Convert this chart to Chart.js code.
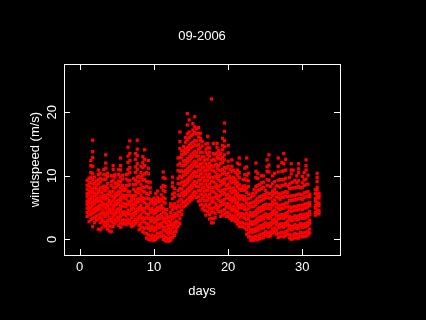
<!DOCTYPE html>
<html>
<head>
<meta charset="utf-8">
<script src="https://cdn.jsdelivr.net/npm/chart.js@4"></script>
<style>
  html, body { margin: 0; padding: 0; background: #000; }
  #wrap { width: 426px; height: 320px; }
</style>
</head>
<body>
<div id="wrap"><canvas id="windChart"></canvas></div>
<script>
// month title and axis names
const chartTitle = "09-2006";
const xTitle = "days";
const yTitle = "windspeed (m/s)";

const xTicks = [0, 10, 20, 30];
const yTicks = [0, 10, 20];

// sample times (day of month) and the readings at each sample time
const sampleDays = [
  1.0, 1.25, 1.5, 1.75, 2.0, 2.25, 2.5, 2.75, 3.0, 3.25, 3.5, 3.75,
  4.0, 4.25, 4.5, 4.75, 5.0, 5.25, 5.5, 5.75, 6.0, 6.25, 6.5, 6.75,
  7.0, 7.25, 7.5, 7.75, 8.0, 8.25, 8.5, 8.75, 9.0, 9.25, 9.5, 9.75,
  10.0, 10.25, 10.5, 10.75, 11.0, 11.25, 11.5, 11.75, 12.0, 12.25, 12.5, 12.75,
  13.0, 13.25, 13.5, 13.75, 14.0, 14.25, 14.5, 14.75, 15.0, 15.25, 15.5, 15.75,
  16.0, 16.25, 16.5, 16.75, 17.0, 17.25, 17.5, 17.75, 18.0, 18.25, 18.5, 18.75,
  19.0, 19.25, 19.5, 19.75, 20.0, 20.25, 20.5, 20.75, 21.0, 21.25, 21.5, 21.75,
  22.0, 22.25, 22.5, 22.75, 23.0, 23.25, 23.5, 23.75, 24.0, 24.25, 24.5, 24.75,
  25.0, 25.25, 25.5, 25.75, 26.0, 26.25, 26.5, 26.75, 27.0, 27.25, 27.5, 27.75,
  28.0, 28.25, 28.5, 28.75, 29.0, 29.25, 29.5, 29.75, 30.0, 30.25, 30.5, 30.75,
  31.0, 31.75, 32.0, 32.25
];

const windspeed = [
  [3.6, 4.2, 4.9, 5.5, 6.0, 6.7, 7.2, 7.9, 8.5, 9.3],
  [2.8, 3.9, 4.6, 5.1, 5.8, 6.3, 7.1, 7.6, 8.4, 8.9, 9.6],
  [3.1, 3.8, 4.3, 5.0, 5.6, 6.3, 6.8, 7.5, 8.1, 8.9, 9.8, 10.5, 11.6, 12.4],
  [2.0, 3.3, 4.1, 4.6, 5.4, 5.9, 6.6, 7.4, 7.9, 8.8, 9.4, 10.4, 11.5, 12.9, 13.8, 15.6],
  [2.6, 3.4, 4.3, 4.8, 5.6, 6.1, 6.9, 7.3, 8.2, 8.8, 9.8],
  [3.0, 3.7, 4.5, 5.0, 5.9, 6.4, 7.0, 7.8, 8.4, 9.2],
  [1.6, 3.2, 3.8, 4.7, 5.2, 6.0, 6.5, 7.3, 7.8, 8.7, 9.4, 10.2, 10.9],
  [1.5, 2.6, 3.5, 4.0, 4.9, 5.4, 6.2, 6.7, 7.5, 8.1, 9.0, 9.6, 10.4],
  [1.8, 2.8, 3.3, 4.1, 4.6, 5.4, 5.9, 6.7, 7.3, 8.2, 9.4],
  [2.3, 2.9, 3.8, 4.3, 5.1, 5.6, 6.4, 6.9, 7.8, 8.4, 9.5, 10.2, 11.0],
  [2.0, 2.7, 3.6, 4.1, 4.9, 5.4, 6.3, 6.8, 7.7, 8.3, 9.4, 10.1, 11.2, 12.0, 13.3],
  [1.6, 2.5, 3.0, 3.9, 4.4, 5.2, 5.7, 6.5, 7.1, 8.1, 8.8, 9.9, 10.4],
  [1.3, 2.1, 3.0, 3.4, 4.3, 4.8, 5.6, 6.1, 7.0, 7.5],
  [1.2, 2.0, 2.8, 3.2, 4.1, 4.6, 5.4, 5.9, 6.8, 7.4, 8.5, 9.1, 10.0],
  [2.0, 2.6, 3.5, 4.0, 4.8, 5.3, 6.2, 6.7, 7.6, 8.2, 9.3, 10.0, 11.0, 11.6],
  [2.5, 3.1, 3.9, 4.4, 5.3, 5.7, 6.6, 7.1, 8.1, 8.8, 9.8, 10.2],
  [2.8, 3.4, 4.2, 4.7, 5.5, 6.0, 6.9, 7.3, 8.3, 8.9],
  [2.2, 3.0, 3.5, 4.4, 4.8, 5.7, 6.2, 7.1, 7.6, 8.6, 9.2, 10.2, 11.0],
  [1.9, 2.6, 3.5, 3.9, 4.8, 5.3, 6.1, 6.6, 7.5, 8.1, 9.1, 9.8, 10.9, 11.6, 12.8],
  [2.4, 3.0, 3.9, 4.3, 5.2, 5.7, 6.5, 7.0, 7.9, 8.5, 9.5, 10.1],
  [2.5, 3.1, 3.9, 4.3, 5.2, 5.6, 6.5, 6.9, 7.7, 8.0],
  [2.3, 2.9, 3.7, 4.2, 5.1, 5.5, 6.4, 6.9, 7.9, 8.5, 9.5, 10.2],
  [2.6, 3.2, 4.1, 4.6, 5.5, 6.0, 6.9, 7.5, 8.5, 9.2, 10.3, 11.0, 12.1, 13.1, 14.5],
  [2.4, 3.0, 3.9, 4.5, 5.4, 5.9, 6.9, 7.5, 8.6, 9.3, 10.5, 11.3, 12.4, 13.5, 15.5],
  [2.0, 2.6, 3.4, 3.9, 4.7, 5.2, 6.0, 6.4, 6.9],
  [2.2, 2.8, 3.7, 4.1, 5.0, 5.5, 6.4, 6.9, 7.9, 8.6, 9.6],
  [2.5, 3.1, 4.0, 4.5, 5.4, 5.9, 6.9, 7.5, 8.6, 9.3, 10.5, 11.4, 12.6, 13.5],
  [2.8, 3.4, 4.3, 4.8, 5.8, 6.3, 7.3, 7.9, 9.0, 9.8, 11.0, 11.9, 13.2, 14.2, 15.6],
  [1.5, 2.2, 3.1, 3.6, 4.5, 5.0, 5.9, 6.4, 7.4, 8.0, 9.1, 9.9],
  [1.8, 2.5, 3.4, 3.9, 4.8, 5.3, 6.3, 6.9, 7.9, 8.6, 9.7, 10.5, 11.5],
  [1.2, 1.9, 2.9, 3.4, 4.4, 4.9, 5.9, 6.5, 7.5, 8.2, 9.3, 10.1, 11.3, 12.1, 13.0],
  [1.0, 1.7, 2.7, 3.3, 4.2, 4.8, 5.8, 6.4, 7.5, 8.2, 9.4, 10.3, 11.6, 12.6, 14.1],
  [0.2, 0.9, 1.9, 2.5, 3.4, 4.0, 5.0, 5.5, 6.5, 7.2, 8.3, 9.1, 10.5],
  [0.0, 0.7, 1.7, 2.3, 3.3, 3.9, 4.9, 5.4, 6.4, 7.1, 8.2, 9.0, 10.3, 11.2, 12.4],
  [-0.1, 0.5, 1.4, 1.9, 2.8, 3.3, 4.2, 4.7, 5.7, 6.3, 7.4, 8.1, 9.0],
  [0.1, 0.7, 1.6, 2.1, 3.0, 3.5, 4.4, 4.9, 5.8, 6.2],
  [-0.2, 0.4, 1.3, 1.8, 2.6, 3.1, 4.0, 4.5, 5.4, 5.9, 6.5],
  [0.0, 0.6, 1.5, 1.9, 2.8, 3.3, 4.2, 4.7, 5.6, 6.2, 7.2],
  [0.3, 0.9, 1.8, 2.3, 3.1, 3.6, 4.5, 5.0, 6.0, 6.6, 7.6],
  [0.4, 1.0, 1.9, 2.4, 3.2, 3.7, 4.6, 5.1, 5.9, 6.3],
  [0.5, 1.1, 2.0, 2.5, 3.4, 3.9, 4.8, 5.3, 6.3, 7.0, 8.2],
  [0.0, 0.6, 1.5, 2.0, 2.9, 3.4, 4.3, 4.9, 5.9, 6.6, 7.7, 8.5, 9.7, 10.6],
  [-0.2, 0.4, 1.3, 1.8, 2.7, 3.2, 4.1, 4.7, 5.7, 6.4, 7.5, 8.3, 9.6],
  [-0.3, 0.2, 1.0, 1.4, 2.2, 2.6, 3.4, 3.9, 4.7],
  [-0.3, 0.1, 0.8, 1.1, 1.8, 2.1, 2.9, 3.5],
  [-0.2, 0.3, 1.1, 1.5, 2.3, 2.7, 3.6, 4.2, 5.1, 5.6],
  [0.3, 0.9, 1.8, 2.3, 3.2, 3.7, 4.7, 5.3, 6.4, 7.1, 8.3, 8.9, 9.8],
  [0.6, 1.2, 2.1, 2.6, 3.5, 4.0, 5.0, 5.6, 6.7, 7.3, 8.0],
  [1.2, 1.7, 2.5, 2.9, 3.7, 4.1, 4.9, 5.1],
  [2.0, 2.7, 3.7, 4.3, 5.3, 5.9, 7.0, 7.7, 8.8, 9.6, 10.8, 11.7, 12.8],
  [2.5, 3.3, 4.4, 5.1, 6.2, 6.9, 8.0, 8.7, 9.9, 10.7, 12.0, 12.9, 14.3, 15.4, 16.9],
  [3.9, 4.6, 5.6, 6.2, 7.2, 7.9, 9.0, 9.7, 10.8, 11.6, 12.8, 13.4, 14.0],
  [5.1, 5.8, 6.8, 7.4, 8.4, 9.0, 10.0, 10.6, 11.6, 12.3, 13.4, 13.9, 14.6],
  [5.3, 6.0, 7.0, 7.6, 8.6, 9.2, 10.2, 10.8, 11.8, 12.4, 13.5, 14.2, 15.3, 16.0],
  [5.6, 6.3, 7.3, 7.9, 8.9, 9.5, 10.5, 11.1, 12.1, 12.7, 13.8, 14.5, 15.7, 16.6, 18.0, 19.8],
  [5.9, 6.6, 7.6, 8.2, 9.2, 9.8, 10.8, 11.4, 12.4, 13.0, 14.1, 14.8, 16.0, 16.9, 18.8],
  [6.2, 6.9, 7.9, 8.5, 9.5, 10.1, 11.1, 11.7, 12.7, 13.3, 14.4, 15.1, 16.3],
  [6.5, 7.2, 8.2, 8.8, 9.8, 10.4, 11.4, 12.0, 13.0, 13.6, 14.6, 15.3, 16.5, 17.2, 18.2],
  [6.8, 7.5, 8.5, 9.1, 10.1, 10.7, 11.7, 12.3, 13.3, 13.9, 14.9, 15.6, 16.8, 17.7, 19.3],
  [6.6, 7.3, 8.3, 8.9, 9.9, 10.5, 11.5, 12.1, 13.1, 13.7, 14.8, 15.5, 16.6, 17.4],
  [6.0, 6.7, 7.7, 8.3, 9.3, 9.9, 10.9, 11.5, 12.5, 13.1, 14.2, 14.9, 16.1, 16.7, 17.6],
  [5.4, 6.1, 7.1, 7.7, 8.7, 9.3, 10.3, 10.9, 11.9, 12.6, 13.7, 14.4, 15.5, 15.9, 16.7],
  [4.8, 5.5, 6.5, 7.1, 8.1, 8.7, 9.7, 10.3, 11.3, 11.9, 13.0, 13.7, 14.7, 15.4],
  [4.6, 5.2, 6.1, 6.7, 7.6, 8.2, 9.2, 9.8, 10.8, 11.4, 12.4, 13.0],
  [3.8, 4.5, 5.5, 6.1, 7.1, 7.7, 8.7, 9.3, 10.3, 10.9, 11.9, 12.6, 13.7, 14.2, 15.0],
  [4.4, 5.1, 6.1, 6.7, 7.7, 8.3, 9.3, 9.9, 10.9, 11.5, 12.6, 13.3, 14.4, 15.1, 16.2],
  [3.2, 3.9, 4.9, 5.5, 6.5, 7.1, 8.1, 8.7, 9.7, 10.3, 11.3, 12.0, 13.1, 13.7, 14.4],
  [2.6, 3.3, 4.3, 4.9, 5.9, 6.5, 7.5, 8.1, 9.1, 9.8, 10.9, 11.6, 12.4, 22.1],
  [2.6, 3.3, 4.3, 4.9, 5.9, 6.5, 7.5, 8.1, 9.1, 9.7, 10.8, 11.5, 12.6, 13.5, 15.1],
  [3.4, 4.1, 5.1, 5.7, 6.7, 7.3, 8.3, 8.9, 9.9, 10.6, 11.7, 12.4, 13.4],
  [4.7, 5.4, 6.4, 7.0, 8.0, 8.6, 9.6, 10.2, 11.2, 11.8, 12.9, 13.6, 14.5, 15.1],
  [4.4, 5.1, 6.1, 6.7, 7.7, 8.3, 9.3, 9.9, 10.9, 11.6, 12.7, 13.3, 14.0],
  [3.6, 4.3, 5.3, 5.9, 6.9, 7.5, 8.5, 9.1, 10.1, 10.8, 11.9, 12.6, 13.5],
  [3.8, 4.5, 5.5, 6.1, 7.1, 7.7, 8.7, 9.3, 10.3, 11.0, 12.1, 12.9, 14.1, 14.8, 15.9],
  [4.0, 4.7, 5.7, 6.3, 7.3, 7.9, 8.9, 9.5, 10.6, 11.3, 12.5, 13.3, 14.6, 15.5, 17.0, 18.3],
  [3.6, 4.2, 5.1, 5.6, 6.5, 7.0, 7.9, 8.5, 9.5, 10.2, 11.2],
  [3.6, 4.2, 5.1, 5.6, 6.5, 7.1, 8.1, 8.7, 9.7, 10.4, 11.5, 12.3, 13.6, 14.8],
  [3.3, 3.9, 4.8, 5.3, 6.2, 6.7, 7.6, 8.2, 9.2, 9.9, 11.0],
  [3.0, 3.6, 4.5, 5.0, 5.9, 6.4, 7.3, 7.9, 8.9, 9.6, 10.7, 11.5, 12.5],
  [3.2, 3.8, 4.7, 5.2, 6.1, 6.6, 7.5, 8.1, 9.1, 9.8, 10.9],
  [2.8, 3.4, 4.3, 4.8, 5.7, 6.2, 7.1, 7.7, 8.7, 9.4, 10.5],
  [2.4, 3.0, 3.9, 4.4, 5.3, 5.8, 6.7, 7.3, 8.3, 9.0, 10.1, 10.9, 12.0],
  [2.0, 2.6, 3.5, 4.0, 4.9, 5.4, 6.3, 6.9, 7.9, 8.6, 9.7, 10.5, 11.8, 12.8],
  [2.1, 2.7, 3.6, 4.1, 5.0, 5.5, 6.4, 6.9, 7.7, 8.0],
  [2.0, 2.6, 3.5, 4.0, 4.9, 5.4, 6.3, 6.8, 7.8, 8.4, 9.4],
  [1.8, 2.4, 3.3, 3.8, 4.7, 5.2, 6.1, 6.7, 7.7, 8.4, 9.5, 10.2, 11.2],
  [0.8, 1.5, 2.5, 3.1, 4.1, 4.7, 5.7, 6.3, 7.4, 8.1, 9.3, 10.1, 11.4, 12.8],
  [0.4, 1.0, 1.9, 2.4, 3.3, 3.8, 4.8, 5.4, 6.4, 7.1, 8.3, 9.2, 10.4],
  [-0.1, 0.4, 1.2, 1.6, 2.4, 2.8, 3.7, 4.2, 5.1, 5.7, 6.5],
  [-0.2, 0.3, 1.1, 1.5, 2.3, 2.7, 3.6, 4.1, 5.1, 5.8, 6.8, 7.2],
  [-0.1, 0.4, 1.2, 1.6, 2.4, 2.8, 3.7, 4.2, 5.2, 5.9, 7.0, 7.8],
  [0.0, 0.5, 1.3, 1.7, 2.5, 3.0, 3.9, 4.5, 5.5, 6.2, 7.4, 8.3, 9.7, 10.7, 12.0],
  [-0.1, 0.5, 1.4, 1.9, 2.8, 3.3, 4.2, 4.8, 5.8, 6.5, 7.7, 8.5, 9.6, 10.4],
  [0.1, 0.7, 1.6, 2.1, 3.0, 3.5, 4.4, 5.0, 6.0, 6.7, 7.8, 8.6],
  [0.2, 0.8, 1.7, 2.2, 3.1, 3.6, 4.5, 5.1, 6.1, 6.8, 8.0, 8.9, 10.0],
  [0.3, 0.9, 1.8, 2.3, 3.2, 3.7, 4.7, 5.3, 6.3, 7.0, 8.2, 9.0, 10.0],
  [0.6, 1.2, 2.1, 2.6, 3.5, 4.0, 4.9, 5.5, 6.5, 7.0, 7.7],
  [0.5, 1.1, 2.0, 2.5, 3.4, 3.9, 4.9, 5.5, 6.6, 7.3, 8.5, 9.4, 10.7, 11.4, 12.5],
  [0.4, 1.0, 1.9, 2.4, 3.3, 3.8, 4.8, 5.4, 6.5, 7.2, 8.4, 9.3, 10.6, 11.7, 13.3],
  [0.6, 1.2, 2.1, 2.6, 3.5, 4.0, 4.9, 5.5, 6.5, 7.2, 8.3],
  [1.0, 1.6, 2.5, 3.0, 3.9, 4.4, 5.3, 5.9, 6.9, 7.6, 8.8, 10.0],
  [1.2, 1.8, 2.7, 3.2, 4.1, 4.6, 5.6, 6.2, 7.2, 7.9, 9.1, 10.4],
  [0.8, 1.4, 2.3, 2.8, 3.7, 4.2, 5.1, 5.7, 6.7, 7.4, 8.4],
  [0.3, 0.9, 1.8, 2.3, 3.2, 3.8, 4.8, 5.4, 6.5, 7.2, 8.4, 9.3, 10.6, 11.5, 12.8],
  [0.4, 1.0, 1.9, 2.4, 3.3, 3.8, 4.7, 5.3, 6.3, 7.0, 8.2, 9.4],
  [0.5, 1.1, 2.0, 2.5, 3.4, 3.9, 4.9, 5.5, 6.6, 7.3, 8.5, 9.4, 10.7, 12.1],
  [0.4, 1.0, 1.9, 2.4, 3.3, 3.9, 4.9, 5.5, 6.6, 7.3, 8.5, 9.4, 10.8, 11.9, 13.5],
  [0.6, 1.2, 2.1, 2.6, 3.5, 4.1, 5.1, 5.7, 6.8, 7.5, 8.7, 9.6, 10.9, 12.6],
  [0.8, 1.4, 2.3, 2.8, 3.7, 4.2, 5.1, 5.7, 6.7, 7.4, 8.4],
  [0.2, 0.8, 1.7, 2.2, 3.1, 3.6, 4.5, 5.1, 6.1, 6.8, 8.0, 8.7, 9.7],
  [0.0, 0.6, 1.5, 2.0, 2.9, 3.4, 4.4, 5.0, 6.1, 6.8, 8.0, 8.9, 10.3, 10.9, 11.9],
  [0.1, 0.7, 1.6, 2.1, 3.0, 3.5, 4.5, 5.1, 6.2, 6.9, 8.1, 9.0, 10.9],
  [0.3, 0.9, 1.8, 2.3, 3.2, 3.7, 4.6, 5.2, 6.2, 6.9, 8.1, 9.3],
  [0.2, 0.8, 1.7, 2.2, 3.1, 3.6, 4.6, 5.2, 6.3, 7.0, 8.2, 8.9, 10.0],
  [0.2, 0.8, 1.7, 2.2, 3.1, 3.7, 4.7, 5.3, 6.4, 7.1, 8.3, 9.2, 10.5, 11.1, 11.9],
  [0.5, 1.1, 2.0, 2.5, 3.4, 3.9, 4.8, 5.4, 6.4, 7.1, 8.1],
  [0.4, 1.0, 1.9, 2.4, 3.3, 3.8, 4.7, 5.3, 6.3, 7.0, 8.2, 8.9, 9.9],
  [0.4, 1.0, 1.9, 2.4, 3.3, 3.9, 4.9, 5.5, 6.6, 7.3, 8.5, 9.4, 10.5],
  [0.5, 1.1, 2.0, 2.5, 3.4, 4.0, 5.0, 5.6, 6.7, 7.4, 8.6, 9.5, 10.9, 11.6, 12.5],
  [0.7, 1.3, 2.2, 2.7, 3.6, 4.1, 5.1, 5.7, 6.8, 7.5, 8.7, 10.1],
  [1.0, 1.6, 2.5, 3.0, 3.9, 4.4, 5.3, 5.8, 6.7, 7.1],
  [3.8, 4.2, 4.9, 5.3, 6.0, 6.4, 7.2, 7.8],
  [4.1, 4.6, 5.4, 5.8, 6.6, 7.0, 7.8, 8.2, 9.1, 9.7, 10.4],
  [4.0, 4.5, 5.3, 5.7, 6.5, 6.9, 7.2]
];

const points = sampleDays.flatMap((d, i) => windspeed[i].map(v => ({ x: d, y: v })));

const font = '13px "Liberation Sans", Arial, sans-serif';

// R style frame: box, inward ticks on all sides, labels
const framePlugin = {
    id: 'frame',
    afterDraw(chart) {
        const ctx = chart.ctx;
        const a = chart.chartArea;
        const xs = chart.scales.x;
        const ys = chart.scales.y;
        const tl = 6;
        ctx.save();
        ctx.strokeStyle = '#fff';
        ctx.lineWidth = 1;
        ctx.strokeRect(Math.round(a.left) + 0.5, Math.round(a.top) + 0.5,
            Math.round(a.right - a.left), Math.round(a.bottom - a.top));
        ctx.beginPath();
        xTicks.forEach(t => {
            const px = Math.round(xs.getPixelForValue(t)) + 0.5;
            ctx.moveTo(px, a.top); ctx.lineTo(px, a.top + tl);
            ctx.moveTo(px, a.bottom); ctx.lineTo(px, a.bottom - tl);
        });
        yTicks.forEach(t => {
            const py = Math.round(ys.getPixelForValue(t)) + 0.5;
            ctx.moveTo(a.left, py); ctx.lineTo(a.left + tl, py);
            ctx.moveTo(a.right, py); ctx.lineTo(a.right - tl, py);
        });
        ctx.stroke();

        ctx.fillStyle = '#fff';
        ctx.font = font;
        ctx.textAlign = 'center';
        ctx.textBaseline = 'middle';
        const cx = (a.left + a.right) / 2;
        ctx.fillText(chartTitle, cx, 36);
        xTicks.forEach(t => ctx.fillText(String(t), xs.getPixelForValue(t), 267));
        ctx.fillText(xTitle, cx, 291);

        yTicks.forEach(t => {
            ctx.save();
            ctx.translate(52, ys.getPixelForValue(t));
            ctx.rotate(-Math.PI / 2);
            ctx.fillText(String(t), 0, 0);
            ctx.restore();
        });
        ctx.save();
        ctx.translate(35, (a.top + a.bottom) / 2);
        ctx.rotate(-Math.PI / 2);
        ctx.fillText(yTitle, 0, 0);
        ctx.restore();
        ctx.restore();
    }
};

const bgPlugin = {
    id: 'bg',
    beforeDraw(chart) {
        const ctx = chart.ctx;
        ctx.save();
        ctx.fillStyle = '#000';
        ctx.fillRect(0, 0, chart.width, chart.height);
        ctx.restore();
    }
};

const config = {
    type: 'scatter',
    data: {
        datasets: [{
            label: 'windspeed',
            data: points,
            backgroundColor: '#ff0000',
            borderWidth: 0,
            pointStyle: 'rect',
            pointRadius: 2.3
        }]
    },
    options: {
        responsive: true,
        maintainAspectRatio: false,
        animation: false,
        layout: { padding: { left: 64, top: 64, right: 86, bottom: 65 } },
        plugins: {
            legend: { display: false },
            tooltip: { enabled: false }
        },
        scales: {
            x: { type: 'linear', min: -2.12, max: 35.08, display: false },
            y: { type: 'linear', min: -2.47, max: 27.6, display: false }
        }
    },
    plugins: [bgPlugin, framePlugin]
};

window.onload = function () {
    const ctx = document.getElementById('windChart').getContext('2d');
    new Chart(ctx, config);
};
</script>
</body>
</html>
